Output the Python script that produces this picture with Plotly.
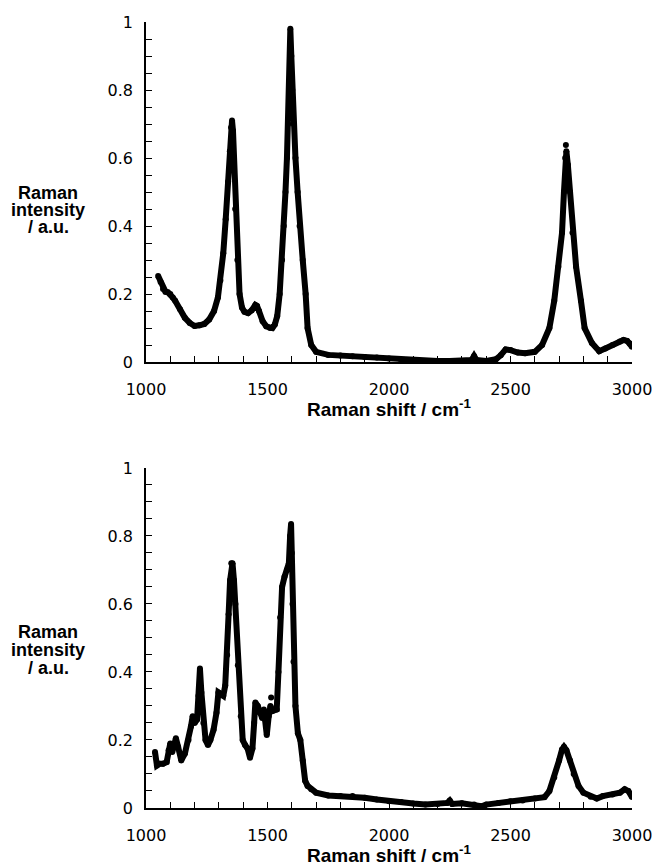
import plotly.graph_objects as go
from plotly.subplots import make_subplots

# Top spectrum
top_shift = [1050, 1060, 1070, 1080, 1090, 1100, 1110, 1120, 1140, 1160, 1180, 1200, 1220, 1240,
             1260, 1280, 1296, 1306, 1318, 1328, 1338, 1345, 1350, 1354, 1358, 1362, 1367, 1376,
             1385, 1395, 1405, 1420, 1435, 1450, 1457, 1465, 1480, 1495, 1510, 1520, 1530, 1540,
             1550, 1560, 1567, 1574, 1580, 1585, 1590, 1594, 1598, 1602, 1608, 1615, 1624, 1632,
             1645, 1657, 1665, 1680, 1700, 1750, 1800, 1850, 1900, 1950, 2000, 2050, 2100, 2150,
             2200, 2250, 2300, 2340, 2350, 2360, 2400, 2440, 2460, 2480, 2500, 2530, 2560, 2600,
             2630, 2660, 2680, 2697, 2712, 2720, 2725, 2730, 2736, 2745, 2755, 2770, 2790, 2805,
             2835, 2865, 2890, 2920, 2950, 2965, 2980, 2990, 3000]
top_int = [0.253, 0.235, 0.215, 0.207, 0.205, 0.2, 0.19, 0.18, 0.155, 0.13, 0.115, 0.106, 0.108, 0.112,
           0.125, 0.15, 0.19, 0.24, 0.32, 0.42, 0.53, 0.62, 0.69, 0.71, 0.68, 0.6, 0.45, 0.3,
           0.2, 0.16, 0.148, 0.144, 0.152, 0.168, 0.165, 0.15, 0.12, 0.105, 0.1, 0.1, 0.11, 0.135,
           0.2, 0.3, 0.4, 0.5, 0.6, 0.7, 0.82, 0.98, 0.9, 0.8, 0.7, 0.6, 0.5, 0.4,
           0.3, 0.2, 0.1, 0.05, 0.03, 0.021, 0.019, 0.017, 0.015, 0.013, 0.01, 0.006, 0.004, 0.003,
           0.003, 0.003, 0.003, 0.006, 0.018, 0.006, 0.003, 0.008, 0.02, 0.037, 0.035, 0.028, 0.026, 0.03,
           0.05, 0.1, 0.18, 0.28, 0.38, 0.5, 0.6, 0.62, 0.58, 0.5, 0.38, 0.28, 0.18, 0.1,
           0.056, 0.032, 0.04, 0.05, 0.06, 0.065, 0.062, 0.055, 0.045]
top_dot_shift = [2728]
top_dot_int = [0.638]

# Bottom spectrum
bot_shift = [1037, 1045, 1055, 1070, 1085, 1093, 1100, 1108, 1115, 1123, 1132, 1145, 1160, 1175,
             1185, 1192, 1200, 1210, 1216, 1222, 1228, 1236, 1245, 1255, 1265, 1278, 1290, 1298,
             1308, 1318, 1326, 1334, 1340, 1346, 1351, 1356, 1362, 1368, 1378, 1390, 1398, 1408, 1418,
             1428, 1438, 1445, 1450, 1460, 1470, 1478, 1485, 1490, 1497, 1505, 1512, 1520, 1530,
             1538, 1545, 1552, 1560, 1570, 1580, 1588, 1593, 1597, 1600, 1603, 1607, 1615, 1625,
             1635, 1645, 1655, 1665, 1680, 1700, 1750, 1800, 1850, 1900, 1950, 2000, 2050, 2100,
             2150, 2200, 2240, 2250, 2260, 2300, 2350, 2380, 2400, 2450, 2500, 2550, 2600, 2640,
             2660, 2680, 2700, 2712, 2720, 2730, 2745, 2760, 2780, 2800, 2830, 2855, 2880, 2920,
             2950, 2970, 2985, 3000]
bot_int = [0.165, 0.125, 0.13, 0.13, 0.135, 0.17, 0.19, 0.165, 0.18, 0.205, 0.18, 0.14, 0.16, 0.2,
           0.24, 0.27, 0.25, 0.26, 0.33, 0.41, 0.34, 0.25, 0.2, 0.185, 0.2, 0.23, 0.28, 0.34,
           0.335, 0.33, 0.36, 0.45, 0.57, 0.67, 0.72, 0.72, 0.67, 0.6, 0.42, 0.27, 0.2, 0.185, 0.175,
           0.148, 0.175, 0.25, 0.31, 0.3, 0.28, 0.265, 0.29, 0.26, 0.215, 0.27, 0.3, 0.285, 0.29,
           0.29, 0.4, 0.56, 0.65, 0.68, 0.7, 0.72, 0.8, 0.835, 0.75, 0.6, 0.43, 0.3, 0.22,
           0.2, 0.14, 0.08, 0.065, 0.055, 0.045, 0.037, 0.035, 0.035, 0.03, 0.025, 0.02, 0.018, 0.013,
           0.01, 0.012, 0.015, 0.022, 0.012, 0.014, 0.01, 0.005, 0.01, 0.015, 0.02, 0.022, 0.028, 0.032,
           0.05, 0.09, 0.14, 0.172, 0.18, 0.17, 0.14, 0.1, 0.065, 0.045, 0.033, 0.028, 0.035, 0.04,
           0.045, 0.055, 0.05, 0.032]
bot_dot_shift = [1515]
bot_dot_int = [0.325]

x_title = "Raman shift / cm<sup>-1</sup>"
y_title_lines = ["Raman", "intensity", "/ a.u."]

fig = make_subplots(rows=2, cols=1, vertical_spacing=0.1348)

for r, (xs, ys, dx, dy) in enumerate([(top_shift, top_int, top_dot_shift, top_dot_int),
                                      (bot_shift, bot_int, bot_dot_shift, bot_dot_int)], start=1):
    fig.add_trace(go.Scatter(x=xs, y=ys, mode="lines+markers",
                             line=dict(color="black", width=6),
                             marker=dict(color="black", size=6),
                             showlegend=False), row=r, col=1)
    fig.add_trace(go.Scatter(x=dx, y=dy, mode="markers",
                             marker=dict(color="black", size=6),
                             showlegend=False), row=r, col=1)

axis_common = dict(showline=True, linecolor="black", linewidth=1.5, showgrid=False,
                   zeroline=False, ticks="inside", ticklen=6, tickwidth=1, tickcolor="black",
                   automargin=False,
                   tickfont=dict(family="DejaVu Sans", size=16, color="black"))

for r in (1, 2):
    fig.update_xaxes(range=[1000, 3000], tick0=1000, dtick=500,
                     minor=dict(dtick=100, ticks="inside", ticklen=6, tickcolor="black", tickwidth=1),
                     ticklabelstandoff=12, row=r, col=1, **axis_common)
    fig.update_yaxes(range=[0, 1], tick0=0, dtick=0.2,
                     minor=dict(dtick=0.05, ticks="inside", ticklen=6, tickcolor="black", tickwidth=1),
                     ticklabelstandoff=8, row=r, col=1, **axis_common)

fig.update_layout(yaxis=dict(domain=[0.5674, 1.0]), yaxis2=dict(domain=[0.0, 0.4326]),
                  xaxis=dict(domain=[0, 1]), xaxis2=dict(domain=[0, 1]))

# titles as annotations
ann = []
for ypix_lines in ([193, 210, 227], [632, 650, 668]):
    for txt, yp in zip(y_title_lines, ypix_lines):
        ann.append(dict(text=txt, xref="paper", yref="paper",
                        x=(48 - 146) / 486, y=(808 - yp) / 786, xanchor="center", yanchor="middle",
                        showarrow=False,
                        font=dict(family="Liberation Sans", size=18, color="black", weight="bold")))
for yp in (408, 854):
    ann.append(dict(text=x_title, xref="paper", yref="paper", x=0.5, y=(808 - yp) / 786,
                    xanchor="center", yanchor="middle", showarrow=False,
                    font=dict(family="Liberation Sans", size=19, color="black", weight="bold")))

fig.update_layout(width=655, height=865, margin=dict(l=146, r=23, t=22, b=57, autoexpand=False),
                  paper_bgcolor="white", plot_bgcolor="white", annotations=ann)

fig.write_html("out.html", config={"displayModeBar": False},
               post_script="document.body.style.margin='0';document.body.style.padding='0';"
                           "document.documentElement.style.overflow='hidden';")
